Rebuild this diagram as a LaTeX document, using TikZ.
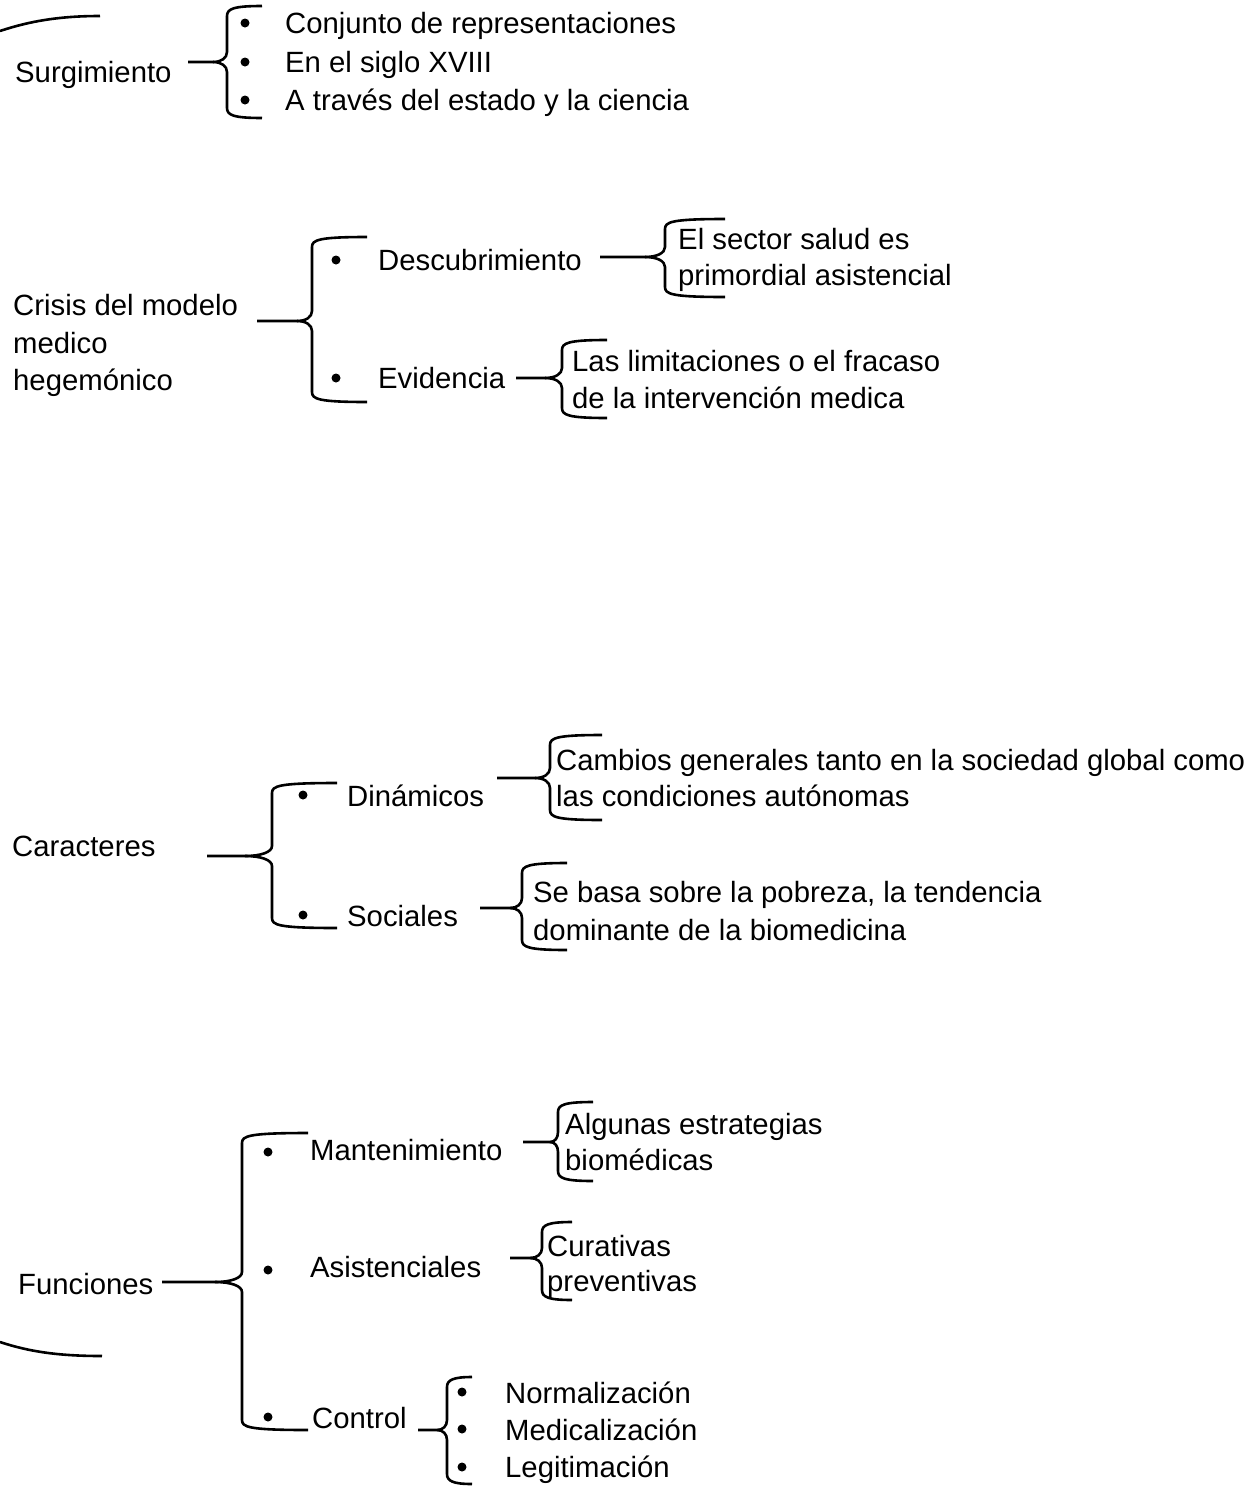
\documentclass[tikz,border=0pt]{standalone}
\usepackage{fontspec}
\setmainfont{Liberation Sans}
\newcommand\brc[7]{% #1 stub x, #2 tip x, #3 spine x, #4 arm end x, #5 top y, #6 mid y, #7 bottom y
  \draw[brline] (#1,#6) -- (#2,#6)
    .. controls ({#2+0.6*(#3-#2)},#6) and (#3,{#6-4}) .. (#3,{#6-10})
    -- (#3,{#5+10}) .. controls (#3,{#5+3}) and ({#3+6},#5) .. (#4,#5);
  \draw[brline] (#2,#6) .. controls ({#2+0.6*(#3-#2)},#6) and (#3,{#6+4}) .. (#3,{#6+10})
    -- (#3,{#7-10}) .. controls (#3,{#7-3}) and ({#3+6},#7) .. (#4,#7);
}
\tikzset{
  txt/.style={font=\fontsize{29.3}{37.5}\selectfont, inner sep=0pt, anchor=base west},
  dot/.style={circle, fill=black, inner sep=0pt, minimum size=9pt},
  brline/.style={line width=2.6pt}
}
\begin{document}
\begin{tikzpicture}[x=1pt,y=-1pt]
\useasboundingbox (0,0) rectangle (1249,1486);
% outer brace arms
\draw[brline] (0,31) .. controls (30,21) and (60,16) .. (100,16);
\draw[brline] (0,1342) .. controls (30,1352) and (60,1356) .. (102,1356);

% Section 1
\node[txt] (surg) at (15,82) {Surgimiento};
\brc{188}{213}{227}{262}{6}{62}{118}
\node[dot] (d11) at (245,23) {};
\node[dot] (d12) at (245,62) {};
\node[dot] (d13) at (245,100) {};
\node[txt] (s11) at (285,33) {Conjunto de representaciones};
\node[txt] (s12) at (285,72) {En el siglo XVIII};
\node[txt] (s13) at (285,110) {A través del estado y la ciencia};

% Section 2
\node[txt] (cr1) at (13,315) {Crisis del modelo};
\node[txt] (cr2) at (13,353) {medico};
\node[txt] (cr3) at (13,390) {hegemónico};
\brc{257}{297}{312}{367}{237}{321}{402}
\node[dot] (d21) at (336,260) {};
\node[dot] (d22) at (336,378) {};
\node[txt] (desc) at (378,270) {Descubrimiento};
\node[txt] (evid) at (378,388) {Evidencia};
\brc{600}{645}{665}{725}{219}{257}{297}
\node[txt] (ds1) at (678,249) {El sector salud es};
\node[txt] (ds2) at (678,285) {primordial asistencial};
\brc{516}{545}{562}{607}{340}{378}{418}
\node[txt] (ev1) at (572,371) {Las limitaciones o el fracaso};
\node[txt] (ev2) at (572,408) {de la intervención medica};

% Section 3
\node[txt] (car) at (12,856) {Caracteres};
\brc{207}{245}{272}{337}{783}{856}{928}
\node[dot] (d31) at (303,795) {};
\node[dot] (d32) at (303,915) {};
\node[txt] (din) at (347,806) {Dinámicos};
\node[txt] (soc) at (347,926) {Sociales};
\brc{497}{535}{550}{602}{735}{778}{820}
\node[txt] (di1) at (556,770) {Cambios generales tanto en la sociedad global como};
\node[txt] (di2) at (556,806) {las condiciones autónomas};
\brc{480}{510}{522}{567}{863}{908}{950}
\node[txt] (so1) at (533,902) {Se basa sobre la pobreza, la tendencia};
\node[txt] (so2) at (533,940) {dominante de la biomedicina};

% Section 4
\node[txt] (fun) at (18,1294) {Funciones};
\brc{162}{215}{242}{308}{1133}{1282}{1430}
\node[dot] (d41) at (268,1152) {};
\node[dot] (d42) at (268,1270) {};
\node[dot] (d43) at (268,1417) {};
\node[txt] (man) at (310,1160) {Mantenimiento};
\node[txt] (asi) at (310,1277) {Asistenciales};
\node[txt] (con) at (312,1428) {Control};
\brc{523}{550}{558}{593}{1102}{1142}{1181}
\node[txt] (ma1) at (565,1134) {Algunas estrategias};
\node[txt] (ma2) at (565,1170) {biomédicas};
\brc{510}{530}{542}{572}{1222}{1258}{1300}
\node[txt] (as1) at (547,1256) {Curativas};
\node[txt] (as2) at (547,1291) {preventivas};
\brc{418}{437}{447}{472}{1377}{1430}{1484}
\node[dot] (d51) at (462,1392) {};
\node[dot] (d52) at (462,1429) {};
\node[dot] (d53) at (462,1467) {};
\node[txt] (co1) at (505,1403) {Normalización};
\node[txt] (co2) at (505,1440) {Medicalización};
\node[txt] (co3) at (505,1477) {Legitimación};
\end{tikzpicture}
\end{document}
